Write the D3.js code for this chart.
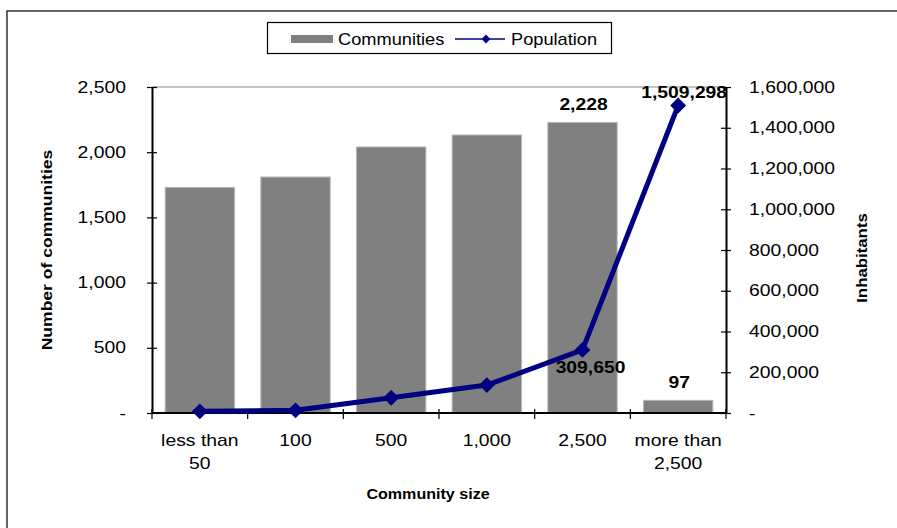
<!DOCTYPE html>
<html>
<head>
<meta charset="utf-8">
<script src="https://cdn.jsdelivr.net/npm/d3@7"></script>
<style>
  html, body { margin: 0; padding: 0; background: #fff; }
  svg { display: block; }
  text { font-family: "Liberation Sans", Arial, sans-serif; fill: #000; }
</style>
</head>
<body>
<svg id="chart" width="897" height="528"></svg>
<script>
// Community size classes
const categories = ["less than 50", "100", "500", "1,000", "2,500", "more than 2,500"];
// Number of communities per size class (left axis)
const communities = [1730, 1810, 2040, 2132, 2228, 97];
// Inhabitants per size class (right axis)
const population = [8000, 13000, 75000, 137000, 309650, 1509298];
// Axis ticks
const leftTicks = [0, 500, 1000, 1500, 2000, 2500];
const rightTicks = [0, 200000, 400000, 600000, 800000, 1000000, 1200000, 1400000, 1600000];
// Which values carry a data label
const barLabelIdx = [4, 5];
const lineLabelIdx = [4, 5];

const svg = d3.select("#chart");
const plot = { left: 152, right: 726, top: 87, bottom: 413 };

const x = d3.scaleBand().domain(categories).range([plot.left, plot.right]).padding(0);
const barW = x.step() * 0.725;
const yL = d3.scaleLinear().domain([0, 2500]).range([plot.bottom, plot.top]);
const yR = d3.scaleLinear().domain([0, 1600000]).range([plot.bottom, plot.top]);
const fmt = d => d === 0 ? "-" : d3.format(",")(d);

// widen glyphs horizontally about each text's own anchor point
function stretch(sel, sx) {
  sel.each(function () {
    const t = d3.select(this);
    const tx = +t.attr("x") || 0, ty = +t.attr("y") || 0;
    const prev = t.attr("transform") || "";
    t.attr("x", 0).attr("y", 0)
     .attr("transform", `${prev} translate(${tx},${ty}) scale(${sx},1)`);
  });
}

// outer frame
svg.append("path")
  .attr("d", "M7,528 V11 H897")
  .attr("fill", "none").attr("stroke", "#333").attr("stroke-width", 1.5);

// plot area top border
svg.append("line")
  .attr("x1", plot.left).attr("x2", plot.right)
  .attr("y1", plot.top).attr("y2", plot.top)
  .attr("stroke", "#888").attr("stroke-width", 1);

// bars
svg.append("g").selectAll("rect").data(communities).join("rect")
  .attr("x", (d, i) => x(categories[i]) + (x.step() - barW) / 2)
  .attr("y", d => yL(d))
  .attr("width", barW)
  .attr("height", d => yL(0) - yL(d))
  .attr("fill", "#808080")
  .attr("stroke", "#b8b8b8").attr("stroke-width", 1);

// left axis
const gL = svg.append("g").attr("transform", `translate(${plot.left},0)`)
  .call(d3.axisLeft(yL).tickValues(leftTicks).tickFormat(fmt).tickSizeInner(5).tickSizeOuter(0).tickPadding(21));
gL.select(".domain").attr("stroke", "#000").attr("stroke-width", 2);
gL.selectAll(".tick line").attr("x2", 5).attr("x1", -5).attr("stroke", "#000").attr("stroke-width", 1.2);
gL.selectAll(".tick text").attr("font-size", 16);
stretch(gL.selectAll(".tick text"), 1.21);

// right axis
const gR = svg.append("g").attr("transform", `translate(${plot.right},0)`)
  .call(d3.axisRight(yR).tickValues(rightTicks).tickFormat(fmt).tickSizeInner(5).tickSizeOuter(0).tickPadding(18));
gR.select(".domain").attr("stroke", "#000").attr("stroke-width", 2);
gR.selectAll(".tick line").attr("x1", -5).attr("x2", 5).attr("stroke", "#000").attr("stroke-width", 1.2);
gR.selectAll(".tick text").attr("font-size", 16);
stretch(gR.selectAll(".tick text"), 1.21);

// bottom axis with ticks between categories
const gB = svg.append("g");
gB.append("line")
  .attr("x1", plot.left).attr("x2", plot.right + 1)
  .attr("y1", plot.bottom).attr("y2", plot.bottom)
  .attr("stroke", "#000").attr("stroke-width", 2);
const bounds = categories.map(c => x(c)).concat([plot.right]);
gB.selectAll("line.tk").data(bounds).join("line").attr("class", "tk")
  .attr("x1", d => d).attr("x2", d => d)
  .attr("y1", plot.bottom - 4).attr("y2", plot.bottom + 6)
  .attr("stroke", "#000").attr("stroke-width", 1.2);
const xLab = gB.selectAll("text.xl").data(categories).join("text").attr("class", "xl")
  .attr("text-anchor", "middle").attr("font-size", 16);
xLab.each(function (c) {
  const lines = c.includes("than ") ? [c.slice(0, c.indexOf("than ") + 4), c.slice(c.indexOf("than ") + 5)] : [c];
  const cx = x(c) + x.step() / 2;
  const t = d3.select(this);
  lines.forEach((ln, k) => {
    t.append("tspan").attr("x", 0).attr("y", k * 23).text(ln);
  });
  t.attr("transform", `translate(${cx},446) scale(1.21,1)`);
});

// line series
const px = i => x(categories[i]) + x.step() / 2;
const line = d3.line().x((d, i) => px(i)).y(d => yR(d));
svg.append("path").datum(population)
  .attr("d", line)
  .attr("fill", "none").attr("stroke", "#000080").attr("stroke-width", 5)
  .attr("stroke-linejoin", "round");
const diamond = d3.symbol().type(d3.symbolDiamond2).size(160);
svg.append("g").selectAll("path").data(population).join("path")
  .attr("d", diamond)
  .attr("transform", (d, i) => `translate(${px(i)},${yR(d)})`)
  .attr("fill", "#000080");

// data labels
const lbl = svg.append("g").attr("font-weight", "bold").attr("font-size", 16.5);
barLabelIdx.forEach(i => {
  lbl.append("text").attr("text-anchor", "middle")
    .attr("transform", `translate(${px(i) + 1},${yL(communities[i]) - 12}) scale(1.17,1)`)
    .text(d3.format(",")(communities[i]));
});
lineLabelIdx.forEach(i => {
  const dx = i === 4 ? 8 : 6;
  const dy = i === 4 ? 23 : -7.5;
  lbl.append("text").attr("text-anchor", "middle")
    .attr("transform", `translate(${px(i) + dx},${yR(population[i]) + dy}) scale(1.17,1)`)
    .text(d3.format(",")(population[i]));
});

// axis titles
svg.append("text").attr("font-weight", "bold").attr("font-size", 14.5)
  .attr("text-anchor", "middle")
  .attr("transform", `translate(52,250) rotate(-90) scale(1.21,1)`)
  .text("Number of communities");
svg.append("text").attr("font-weight", "bold").attr("font-size", 14.5)
  .attr("text-anchor", "middle")
  .attr("transform", `translate(867,258) rotate(-90) scale(1.16,1)`)
  .text("Inhabitants");
svg.append("text").attr("font-weight", "bold").attr("font-size", 14.5)
  .attr("text-anchor", "middle")
  .attr("transform", `translate(428,499) scale(1.11,1)`)
  .text("Community size");

// legend
const lg = svg.append("g");
lg.append("rect").attr("x", 267.5).attr("y", 22.5).attr("width", 344).attr("height", 31)
  .attr("fill", "#fff").attr("stroke", "#000").attr("stroke-width", 1.2);
lg.append("rect").attr("x", 291).attr("y", 35).attr("width", 42).attr("height", 8).attr("fill", "#808080");
lg.append("text").attr("font-size", 16)
  .attr("transform", `translate(338,44.5) scale(1.14,1)`).text("Communities");
lg.append("line").attr("x1", 455).attr("x2", 505).attr("y1", 39).attr("y2", 39)
  .attr("stroke", "#000080").attr("stroke-width", 1.5);
lg.append("path").attr("d", d3.symbol().type(d3.symbolDiamond2).size(50))
  .attr("transform", "translate(486,39)").attr("fill", "#000080");
lg.append("text").attr("font-size", 16)
  .attr("transform", `translate(511,44.5) scale(1.14,1)`).text("Population");
</script>
</body>
</html>
